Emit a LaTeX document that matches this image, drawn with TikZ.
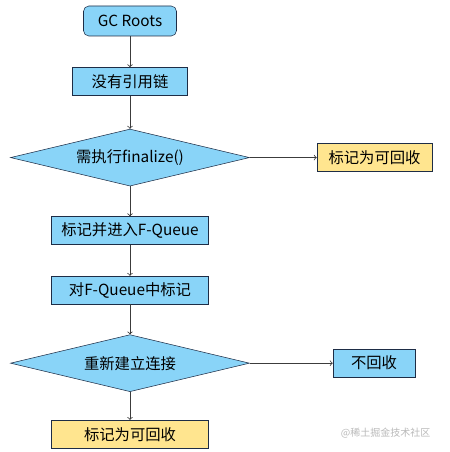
\documentclass[tikz,border=0pt]{standalone}
\usepackage{fontspec}
\setmainfont{Noto Sans CJK SC}
\usepackage{color}
\definecolor{myblu1}{RGB}{137,212,248}
\definecolor{myyel1}{RGB}{255,229,143}
\definecolor{mynavi}{RGB}{30,45,70}
\definecolor{myarro}{RGB}{60,60,60}
\definecolor{mygri1}{RGB}{185,185,185}
\usepackage{tikz}
\usetikzlibrary{positioning}
\usetikzlibrary{shapes.geometric, arrows}
\tikzstyle{startbox} = [rectangle, rounded corners=4pt, minimum width=69.75pt, minimum height=22.5pt, text centered, draw=mynavi, fill=myblu1, text=black]
\tikzstyle{process} = [rectangle, minimum height=21pt, text centered, draw=mynavi, fill=myblu1, text=black]
\tikzstyle{result} = [rectangle, minimum height=21pt, text centered, draw=mynavi, fill=myyel1, text=black]
\tikzstyle{decision} = [diamond, aspect=4.19, minimum width=179.25pt, minimum height=42.75pt, inner sep=0pt, text centered, draw=mynavi, fill=myblu1, text=black]
\tikzstyle{flow} = [line width=0.6pt,->,>=to,myarro]

\begin{document}
\begin{tikzpicture}[align=center, font=\fontsize{11.5pt}{13pt}\selectfont]
	\useasboundingbox (-97.5pt,15.75pt) rectangle (239.25pt,-323.25pt);
	\node (roots) [startbox] {GC Roots};
	\node (nochain) [process, minimum width=86.25pt, below=23.25pt of roots] {没有引用链};
	\node (final) [decision, below=24.75pt of nochain] {需执行finalize()};
	\node (mark1) [result, minimum width=86.25pt, right=50.25pt of final] {标记为可回收};
	\node (queue) [process, minimum width=117.75pt, below=22.5pt of final] {标记并进入F-Queue};
	\node (inqueue) [process, minimum width=117.75pt, below=23.25pt of queue] {对F-Queue中标记};
	\node (relink) [decision, below=22.5pt of inqueue] {重新建立连接};
	\node (keep) [process, minimum width=61.5pt, right=62.25pt of relink] {不回收};
	\node (mark2) [result, minimum width=117.75pt, below=21pt of relink] {标记为可回收};
	\node (wmark) [text=mygri1, font=\fontsize{7.5pt}{9pt}\selectfont, anchor=east] at (228.75pt,-309pt) {@稀土掘金技术社区};
	\draw [flow] (roots) -- (nochain);
	\draw [flow] (nochain) -- (final);
	\draw [flow] (final) -- (mark1);
	\draw [flow] (final) -- (queue);
	\draw [flow] (queue) -- (inqueue);
	\draw [flow] (inqueue) -- (relink);
	\draw [flow] (relink) -- (keep);
	\draw [flow] (relink) -- (mark2);
\end{tikzpicture}
\end{document}
